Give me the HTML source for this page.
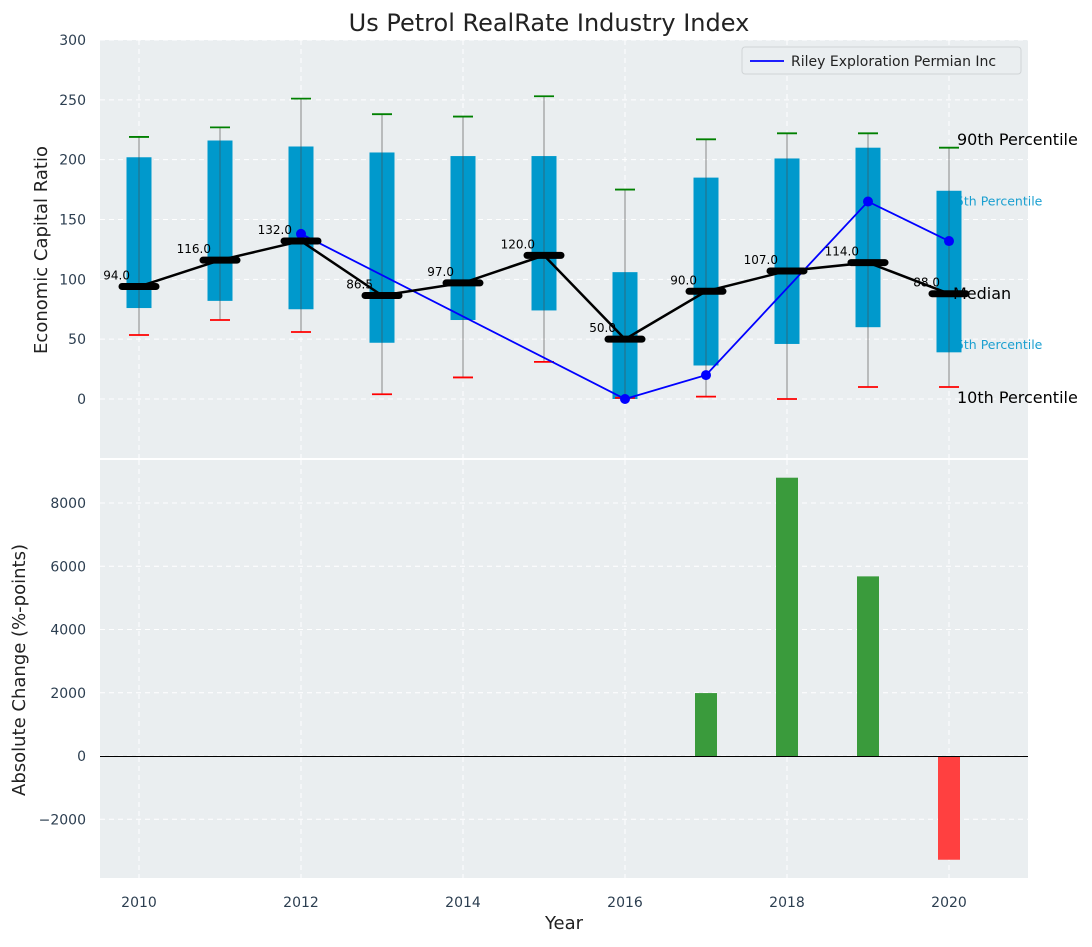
<!DOCTYPE html>
<html><head><meta charset="utf-8"><style>
body{margin:0;background:#fff;font-family:"Liberation Sans","DejaVu Sans",sans-serif}
svg text{font-family:"DejaVu Sans","Liberation Sans",sans-serif}
</style></head><body>
<svg id="c" width="1092" height="942" xmlns="http://www.w3.org/2000/svg"></svg>
<script>
const years=[2010,2011,2012,2013,2014,2015,2016,2017,2018,2019,2020];
const p10=[53.5,66,56,4,18,31,1,2,0,10,10];
const p25=[76,82,75,47,66,74,0,28,46,60,39];
const p75=[202,216,211,206,203,203,106,185,201,210,174];
const p90=[219,227,251,238,236,253,175,217,222,222,210];
const medians=[94,116,132,86.5,97,120,50,90,107,114,88];
const rileyYears=[2012,2016,2017,2019,2020];
const rileyValues=[138,0,20,165,132];
const changeYears=[2017,2018,2019,2020];
const changeValues=[1990,8800,5680,-3280];
const topTicks=[0,50,100,150,200,250,300];
const botTicks=[-2000,0,2000,4000,6000,8000];
const xTicks=[2010,2012,2014,2016,2018,2020];

const S=document.getElementById('c'),NS='http://www.w3.org/2000/svg';
function el(t,a,txt){const e=document.createElementNS(NS,t);for(const k in a)e.setAttribute(k,a[k]);if(txt!==undefined)e.textContent=txt;S.appendChild(e);return e;}
const X=v=>139+(v-2010)*81;
const Y1=v=>399-v*1.1967;
const Y2=v=>756-v*0.031625;
const L=100,R=1028;

let e;
e=el('rect',{x:L,y:40,width:R-L,height:418,fill:'#eaeef0'});


e=el('rect',{x:L,y:460,width:R-L,height:418,fill:'#eaeef0'});


xTicks.forEach(t=>{
 el('line',{x1:X(t),x2:X(t),y1:40,y2:458,stroke:'#fff','stroke-dasharray':'5,4','stroke-width':1});
 el('line',{x1:X(t),x2:X(t),y1:460,y2:878,stroke:'#fff','stroke-dasharray':'5,4','stroke-width':1});
 e=el('text',{x:X(t),y:907,'text-anchor':'middle','font-size':14,fill:'#2c3e50'},t);
 
 
});
topTicks.forEach(t=>{
 el('line',{x1:L,x2:R,y1:Y1(t),y2:Y1(t),stroke:'#fff','stroke-dasharray':'5,4'});
 e=el('text',{x:86,y:Y1(t)+5,'text-anchor':'end','font-size':14,fill:'#2c3e50'},t);
 
 
});
botTicks.forEach(t=>{
 el('line',{x1:L,x2:R,y1:Y2(t),y2:Y2(t),stroke:'#fff','stroke-dasharray':'5,4'});
 e=el('text',{x:86,y:Y2(t)+5,'text-anchor':'end','font-size':14,fill:'#2c3e50'},t<0?'\u2212'+(-t):t);
 
 
});
years.forEach((y,i)=>{
 el('line',{x1:X(y),x2:X(y),y1:Y1(p90[i]),y2:Y1(p10[i]),stroke:'#888','stroke-width':1});
});
[['75th Percentile',165],['25th Percentile',45]].forEach(a=>{
 e=el('text',{x:948,y:Y1(a[1])+4,'font-size':12.5,fill:'#1a9fd0'},a[0]);
 
 
});
years.forEach((y,i)=>{
 e=el('rect',{x:X(y)-12.5,y:Y1(p75[i]),width:25,height:Y1(p25[i])-Y1(p75[i]),fill:'#0099cc'});
 
 
 el('line',{x1:X(y),x2:X(y),y1:Y1(p75[i]),y2:Y1(p25[i]),stroke:'#2a6a80','stroke-width':1});
 el('line',{x1:X(y)-10,x2:X(y)+10,y1:Y1(p90[i]),y2:Y1(p90[i]),stroke:'green','stroke-width':1.8});
 el('line',{x1:X(y)-10,x2:X(y)+10,y1:Y1(p10[i]),y2:Y1(p10[i]),stroke:'red','stroke-width':1.8});
});
e=el('polyline',{points:rileyYears.map((y,i)=>X(y)+','+Y1(rileyValues[i])).join(' '),fill:'none',stroke:'blue','stroke-width':1.8});


rileyYears.forEach((y,i)=>{
 e=el('circle',{cx:X(y),cy:Y1(rileyValues[i]),r:5,fill:'blue'});
 
 
});
e=el('polyline',{points:years.map((y,i)=>X(y)+','+Y1(medians[i])).join(' '),fill:'none',stroke:'#000','stroke-width':2.5});


years.forEach((y,i)=>{
 e=el('line',{x1:X(y)-17,x2:X(y)+17,y1:Y1(medians[i]),y2:Y1(medians[i]),stroke:'#000','stroke-width':7,'stroke-linecap':'round'});
 
 
 e=el('text',{x:X(y)-9,y:Y1(medians[i])-7,'text-anchor':'end','font-size':12,fill:'#000'},medians[i].toFixed(1));
 
 
});
[['90th Percentile',957,145],['Median',953,299],['10th Percentile',957,403]].forEach(a=>{
 e=el('text',{x:a[1],y:a[2],'font-size':16,fill:'#000'},a[0]);
 
 
});
changeYears.forEach((y,i)=>{
 const v=changeValues[i];
 e=el('rect',{x:X(y)-11,y:Math.min(Y2(v),Y2(0)),width:22,height:Math.abs(Y2(v)-Y2(0)),fill:v>=0?'#3a9b3c':'#ff4040'});
 
 
});
el('line',{x1:L,x2:R,y1:Y2(0)+0.5,y2:Y2(0)+0.5,stroke:'#000','stroke-width':1});
e=el('rect',{x:742,y:47,width:279,height:27,rx:3,fill:'#eaeef0',stroke:'#d0d4d6'});


el('line',{x1:750,x2:784,y1:61,y2:61,stroke:'blue','stroke-width':1.8});
e=el('text',{x:791,y:66,'font-size':14,fill:'#222'},'Riley Exploration Permian Inc');


e=el('text',{x:549,y:31,'text-anchor':'middle','font-size':24,fill:'#222'},'Us Petrol RealRate Industry Index');


e=el('text',{x:564,y:929,'text-anchor':'middle','font-size':18,fill:'#222'},'Year');


e=el('text',{x:47,y:250,'text-anchor':'middle','font-size':18,fill:'#222',transform:'rotate(-90 47 250)'},'Economic Capital Ratio');


e=el('text',{x:25,y:670,'text-anchor':'middle','font-size':18,fill:'#222',transform:'rotate(-90 25 670)'},'Absolute Change (%-points)');


</script>
</body></html>
